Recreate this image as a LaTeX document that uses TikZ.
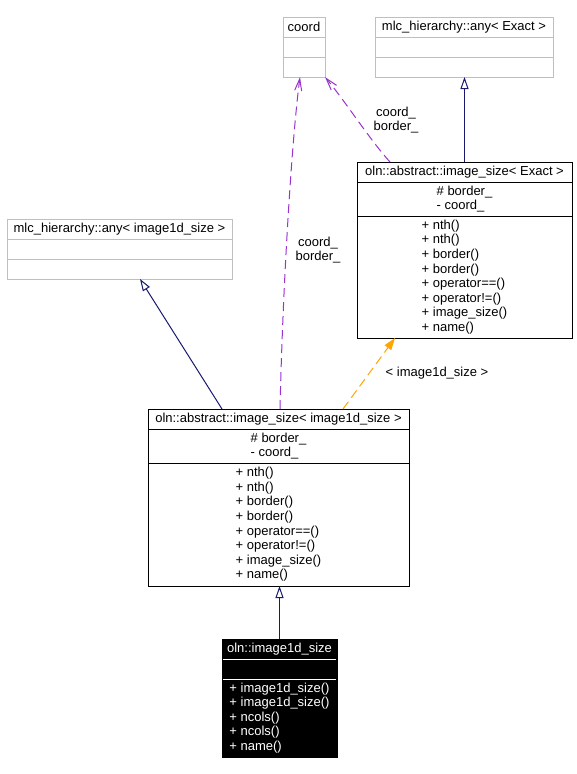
\documentclass[tikz,border=0pt]{standalone}
\usepackage{fontspec}
\setmainfont{Liberation Sans}
\usetikzlibrary{arrows.meta}
\definecolor{boxgray}{RGB}{191,191,191}
\definecolor{navy}{RGB}{25,25,112}
\definecolor{usepurple}{RGB}{154,50,205}
\definecolor{tplorange}{RGB}{255,165,0}
\tikzset{
  part/.style={draw, line width=1pt, inner sep=0pt, outer sep=0pt, anchor=north west,
    font=\fontsize{13}{14.6}\selectfont},
  grayp/.style={part, draw=boxgray},
  blackp/.style={part, draw=black},
  darkp/.style={part, draw=black, fill=black, text=white},
  inherit/.style={draw=navy, line width=1pt, -{Triangle[open, length=12pt, width=8pt, fill=white]}},
  usage/.style={draw=usepurple, line width=1pt, dash pattern=on 9pt off 5pt, -{Straight Barb[length=12pt, width=7pt]}},
  templ/.style={draw=tplorange, line width=1pt, dash pattern=on 9pt off 5pt, -{Triangle[length=12pt, width=8pt]}},
  elabel/.style={font=\fontsize{13}{14.2}\selectfont, align=center, inner sep=0pt}
}
\begin{document}
\begin{tikzpicture}[x=1pt,y=-1pt]
\useasboundingbox (0,0) rectangle (576,774);
% coord
\node[grayp, minimum width=42, minimum height=20] (coordT) at (283,17) {coord};
\node[grayp, minimum width=42, minimum height=20] (coordA) at (283,37) {};
\node[grayp, minimum width=42, minimum height=20] (coordM) at (283,57) {};
% mlc any< Exact >
\node[grayp, minimum width=178, minimum height=20] (anyET) at (375,17) {mlc\_hierarchy::any< Exact >};
\node[grayp, minimum width=178, minimum height=20] (anyEA) at (375,37) {};
\node[grayp, minimum width=178, minimum height=20] (anyEM) at (375,57) {};
% oln::abstract::image_size< Exact >
\node[blackp, minimum width=215, minimum height=20] (absET) at (357,162) {oln::abstract::image\_size< Exact >};
\node[blackp, minimum width=215, minimum height=34, align=left] (absEA) at (357,182) {\# border\_\\- coord\_};
\node[blackp, minimum width=215, minimum height=122, align=left] (absEM) at (357,216)
  {+ nth()\\+ nth()\\+ border()\\+ border()\\+ operator==()\\+ operator!=()\\+ image\_size()\\+ name()};
% mlc any< image1d_size >
\node[grayp, minimum width=225, minimum height=20] (anyIT) at (7,219) {mlc\_hierarchy::any< image1d\_size >};
\node[grayp, minimum width=225, minimum height=20] (anyIA) at (7,239) {};
\node[grayp, minimum width=225, minimum height=20] (anyIM) at (7,259) {};
% oln::abstract::image_size< image1d_size >
\node[blackp, minimum width=261, minimum height=20] (absIT) at (148,409) {oln::abstract::image\_size< image1d\_size >};
\node[blackp, minimum width=261, minimum height=34, align=left] (absIA) at (148,429) {\# border\_\\- coord\_};
\node[blackp, minimum width=261, minimum height=123, align=left] (absIM) at (148,463)
  {+ nth()\\+ nth()\\+ border()\\+ border()\\+ operator==()\\+ operator!=()\\+ image\_size()\\+ name()};
% oln::image1d_size
\node[darkp, minimum width=115, minimum height=20] (imgT) at (222,639) {oln::image1d\_size};
\node[darkp, minimum width=115, minimum height=20] (imgA) at (222,659) {};
\node[darkp, minimum width=115, minimum height=78, align=left] (imgM) at (222,679)
  {+ image1d\_size()\\+ image1d\_size()\\+ ncols()\\+ ncols()\\+ name()};
\draw[white, line width=1pt] ([xshift=1pt]imgT.south west) -- ([xshift=-1pt]imgT.south east);
\draw[white, line width=1pt] ([xshift=1pt]imgA.south west) -- ([xshift=-1pt]imgA.south east);
% connectors
\draw[inherit] (absET.north) -- (absET.north |- anyEM.south);
\draw[inherit] ([xshift=-56.5pt]absIT.north) -- ([xshift=20.5pt]anyIM.south);
\draw[inherit] (imgT.north) -- (imgT.north |- absIM.south);
\draw[templ] ([xshift=64.5pt]absIT.north) -- ([xshift=-69.5pt]absEM.south);
\draw[usage] ([xshift=1.5pt]absIT.north) .. controls ++(3,-130) and ++(-8,60) .. ([xshift=-4pt]coordM.south);
\draw[usage] ([xshift=-74.5pt]absET.north) .. controls ++(-20,-22) and ++(20,24) .. (coordM.south east);
% labels
\node[elabel] (l1) at (318,250) {coord\_\\border\_};
\node[elabel] (l2) at (396,120) {coord\_\\border\_};
\node[elabel] (l3) at (437,373) {< image1d\_size >};
\end{tikzpicture}
\end{document}
